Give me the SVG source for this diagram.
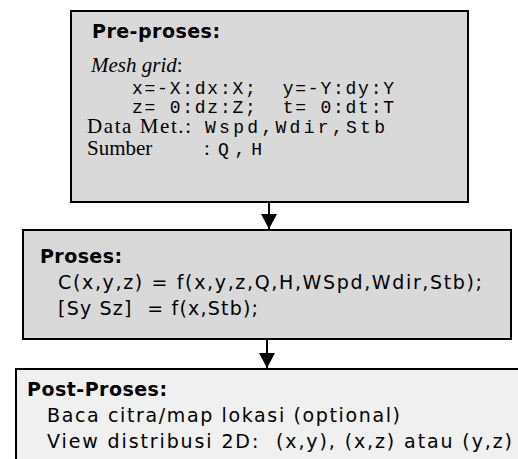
<svg xmlns="http://www.w3.org/2000/svg" width="518" height="459" viewBox="0 0 518 459">
<style>
.box{fill:#d9d9d9;stroke:#000;stroke-width:2}
.box3{fill:#f0f0f0;stroke:#000;stroke-width:2}
text{white-space:pre;fill:#000}
.h{font-family:"DejaVu Sans",sans-serif;font-weight:bold;font-size:19px}
.s{font-family:"DejaVu Sans",sans-serif;font-size:19px}
.r{font-family:"Liberation Serif",serif;font-size:21px}
.m{font-family:"Liberation Mono",monospace;font-size:18px}
.conn line{stroke:#000;stroke-width:2}
</style>
<defs>
<marker id="ah" markerWidth="16" markerHeight="16" refX="15" refY="8" orient="auto" markerUnits="userSpaceOnUse">
<path d="M0,0 L15,8 L0,16 z" fill="#000"/>
</marker>
</defs>
<g id="pre-proses">
<rect class="box" x="71" y="11" width="397" height="191"/>
<text class="h" x="92" y="38" textLength="128">Pre-proses:</text>
<text class="r" x="91" y="72"><tspan font-style="italic">Mesh grid</tspan>:</text>
<text class="m" x="132" y="94" textLength="262">x=-X:dx:X;  y=-Y:dy:Y</text>
<text class="m" x="132" y="113" textLength="262">z= 0:dz:Z;  t= 0:dt:T</text>
<text class="r" x="87" y="133" textLength="104">Data Met.:</text>
<text class="m" x="205" y="133" textLength="180">Wspd,Wdir,Stb</text>
<text class="r" x="87" y="155">Sumber</text>
<text class="r" x="204" y="155">:</text>
<text class="m" x="218" y="155" textLength="44">Q,H</text>
</g>
<g id="proses">
<rect class="box" x="23" y="230" width="488" height="109"/>
<text class="h" x="40" y="263" textLength="82">Proses:</text>
<text class="s" x="58" y="289" textLength="424">C(x,y,z) = f(x,y,z,Q,H,WSpd,Wdir,Stb);</text>
<text class="s" x="58" y="315" textLength="200">[Sy Sz]  = f(x,Stb);</text>
</g>
<g id="post-proses">
<rect class="box3" x="16" y="369" width="520" height="110"/>
<text class="h" x="27" y="396" textLength="140">Post-Proses:</text>
<text class="s" x="47" y="422" textLength="353">Baca citra/map lokasi (optional)</text>
<text class="s" x="47" y="448" textLength="465">View distribusi 2D:  (x,y), (x,z) atau (y,z)</text>
</g>
<g class="conn">
<line x1="269" y1="202" x2="269" y2="229" marker-end="url(#ah)"/>
<line x1="267" y1="339" x2="267" y2="368" marker-end="url(#ah)"/>
</g>
</svg>
